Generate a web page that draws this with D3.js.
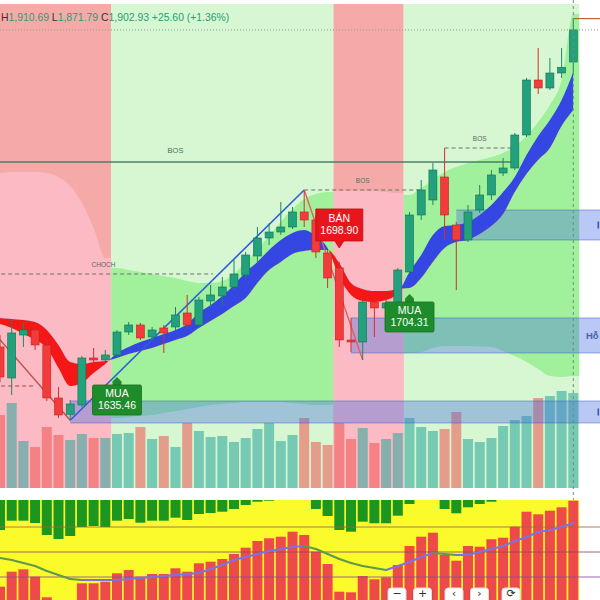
<!DOCTYPE html>
<html>
<head>
<meta charset="utf-8">
<script src="https://cdn.jsdelivr.net/npm/d3@7"></script>
<style>
  html, body { margin: 0; padding: 0; background: #ffffff; }
  svg { display: block; }
</style>
</head>
<body>
<svg id="chart" width="600" height="600"></svg>
<script>
// ---- session index (bar -1 is the partly hidden bar at the left edge) ----
const bars = d3.range(-1, 49);

// ---- OHLC ----
const open  = [1685.67,1664.42,1693.89,1697.31,1687.04,1650.72,1639.50,1645.92,1678.13,1676.76,1680.18,1695.94,1700.74,1692.52,1698.68,1699.37,1708.96,1700.74,1717.18,1720.61,1726.78,1735.00,1748.02,1760.35,1764.46,1767.89,1778.17,1772.69,1750.07,1739.80,1690.46,1689.09,1716.50,1712.39,1715.81,1737.06,1776.11,1786.39,1802.15,1769.26,1758.98,1779.54,1789.82,1804.89,1808.32,1830.93,1868.61,1863.13,1873.41,1880.95];
const high  = [1693.89,1704.17,1702.80,1700.74,1691.83,1658.26,1649.35,1679.50,1684.98,1683.61,1697.31,1702.80,1702.11,1699.37,1700.74,1713.07,1721.30,1719.93,1728.15,1733.63,1745.28,1750.76,1767.89,1770.63,1785.02,1781.59,1793.24,1776.11,1752.13,1743.91,1705.54,1717.87,1717.87,1717.87,1739.80,1778.17,1800.09,1811.74,1822.02,1771.32,1782.96,1796.67,1806.95,1815.17,1832.30,1869.98,1890.54,1883.69,1890.54,1910.69];
const low   = [1661.68,1652.78,1685.67,1683.61,1648.66,1637.02,1635.46,1644.55,1674.70,1675.39,1678.81,1693.89,1690.46,1690.46,1681.55,1697.31,1699.37,1698.68,1713.07,1714.44,1724.72,1732.94,1743.22,1755.56,1762.41,1766.52,1767.89,1746.65,1726.09,1685.67,1682.24,1676.76,1692.52,1711.02,1714.44,1735.69,1772.69,1782.96,1758.98,1724.72,1757.61,1777.48,1786.39,1802.83,1806.95,1829.56,1859.02,1861.76,1869.98,1871.79];
const close = [1665.11,1695.26,1697.31,1687.04,1650.72,1639.07,1646.61,1678.13,1676.76,1680.18,1695.94,1700.74,1691.83,1697.31,1695.26,1707.59,1700.74,1717.87,1721.30,1726.78,1735.69,1748.70,1760.35,1764.46,1767.89,1778.17,1772.69,1750.76,1732.94,1690.46,1689.09,1716.50,1712.39,1715.81,1738.43,1776.11,1793.24,1806.95,1776.11,1758.98,1778.17,1789.82,1803.52,1808.32,1830.93,1868.61,1863.13,1873.41,1877.33,1902.93];

// ---- volume (thousand lots) ----
const volume = [730,850,470,410,610,530,480,540,500,500,540,550,610,490,520,410,650,570,510,520,460,500,590,650,470,530,700,460,430,650,490,600,450,490,550,700,610,570,590,760,490,460,500,620,680,720,900,920,970,950];

// ---- moving-average ribbon ----
const maFast = [1701.43,1698.68,1694.57,1690.46,1684.98,1671.28,1658.94,1661.00,1667.85,1674.02,1681.55,1685.67,1689.09,1691.83,1694.57,1697.31,1701.43,1708.96,1714.44,1720.61,1728.15,1737.06,1743.91,1752.13,1758.98,1763.78,1765.83,1761.72,1753.50,1733.63,1721.30,1717.18,1716.50,1717.87,1722.67,1737.06,1748.70,1762.41,1768.57,1769.26,1771.32,1776.11,1782.96,1791.87,1802.15,1817.22,1830.24,1841.21,1854.91,1874.10];
const maSlow = [1705.54,1704.85,1704.17,1702.80,1697.31,1687.04,1675.39,1674.02,1675.39,1676.07,1678.13,1680.87,1682.92,1684.98,1687.72,1690.46,1693.20,1698.68,1703.48,1708.28,1713.76,1719.24,1729.52,1738.43,1743.91,1749.39,1751.44,1752.13,1752.13,1743.22,1729.52,1725.41,1724.04,1724.04,1725.41,1726.09,1732.94,1743.91,1753.50,1757.61,1758.98,1763.09,1768.57,1776.80,1791.87,1804.21,1813.80,1822.02,1837.09,1848.06];

// ---- trend cloud ----
const cloudUpper = [1804.89,1805.58,1805.58,1805.58,1804.89,1802.15,1795.98,1784.33,1767.20,1746.65,1739.80,1738.43,1737.06,1735.69,1734.31,1732.94,1730.89,1729.52,1729.52,1730.89,1735.69,1743.91,1752.82,1761.72,1771.32,1780.22,1787.08,1790.50,1791.87,1792.56,1792.56,1792.56,1792.56,1791.87,1791.19,1789.82,1794.61,1800.09,1805.58,1809.00,1811.74,1813.80,1815.85,1818.59,1823.39,1830.24,1839.84,1851.48,1868.61,1913.84];
const cloudLower = [1589.05,1589.05,1589.05,1589.05,1589.05,1589.05,1589.05,1589.05,1589.05,1589.05,1637.02,1637.70,1638.39,1639.07,1640.44,1641.81,1643.18,1644.55,1645.92,1646.61,1647.29,1647.98,1647.98,1647.98,1647.98,1647.29,1646.61,1645.92,1645.92,1589.05,1589.05,1589.05,1589.05,1589.05,1589.05,1681.55,1682.24,1684.98,1686.35,1686.35,1686.35,1686.01,1685.67,1682.92,1679.50,1675.39,1670.59,1665.79,1665.11,1665.79];

// ---- trend zones (bar ranges) ----
const zoneFrom  = [-1, 9, 28, 34];
const zoneTo    = [8, 27, 33, 48];
const zoneTrend = ["down", "up", "down", "up"];

// ---- supply / demand boxes (only the support tag fits inside the pane) ----
const boxTop    = [1779.54, 1705.54, 1648.66];
const boxBottom = [1758.98, 1681.55, 1633.59];
const boxFrom   = [38, 29, 5];
const boxText   = ["", "Hỗ", ""];

// ---- structure levels ----
const levelName  = ["BOS", "BOS", "BOS", "CHOCH", ""];
const levelPrice = [1812.43, 1793.24, 1822.02, 1735.69, 1658.94];
const levelFrom  = [-15, 25, 37, -1.5, -1.5];
const levelTo    = [43, 35, 43, 17.2, 2];

// ---- swing points ----
const swingBar   = [-3, 5, 25, 30];
const swingPrice = [1708.96, 1635.46, 1793.24, 1676.76];

// ---- signals ----
const signalBar   = [28, 9, 34];
const signalSide  = ["BÁN", "MUA", "MUA"];
const signalPrice = [1698.90, 1635.46, 1704.31];

// ---- lower oscillator ----
const bullPower = [13.3,28.3,30.7,23.3,2.7,0,0,16.7,16.7,18.3,26.7,30,23.3,26,26,31.7,28.3,36.7,38.3,41,46,52.3,59,61.7,63.3,68.3,65,48.3,36,8.3,7.7,24,20.7,22.7,35,54,63.3,67.3,45,39.3,54,53.3,60.7,62.3,73.3,88.3,85.7,89.3,92.7,99.3];
const bearPower = [30,20.7,20.7,23,35,39,36,27,26,27,20.7,19,22.7,20.7,20.7,17.7,20,14,13,11.7,9,5,1.7,0.7,0,0,0,9,16,30,31.7,21.7,23.3,23.3,15.7,4,0,0,9,13.3,7.3,4,1.7,0,0,0,0,0,0,0];
const oscSignal = [42,40,37,34,29,25,21,20,20,20,20,21,22,23,24,25,26,27,31,35,40,43,46,49,51,53,54,51,46,41,37,34,32,30,34,38,43,47,46,45,45,48,51,54,59,63,68,70,73,77];
const oscLevels = [23, 48, 73];

// ---- nav buttons ----
const navButtons = ["−", "+", "‹", "›", "⟳"];

// =====================================================================
const svg = d3.select("#chart");
const W = 600, H = 600;
const font = "'Liberation Sans', Arial, sans-serif";

const x = d3.scaleLinear().domain([0, 48]).range([11.7, 573.3]);
const step = x(1) - x(0);
const half = step / 2;
const y = d3.scaleLinear().domain([1600, 1920]).range([472, 5]);
const mainTop = 4, mainBottom = 488;
const plotRight = x(48) + half;
const yc = p => Math.min(mainBottom, y(p));

svg.append("rect").attr("width", W).attr("height", H).attr("fill", "#ffffff");

const main = svg.append("g");

// trend zones
const zoneFill = { down: "#f5aaa8", up: "#d7f7d2" };
const cloudFill = { down: "#fbbac4", up: "#a0f09c" };
zoneFrom.forEach((f, k) => {
  main.append("rect")
    .attr("x", x(f) - half).attr("y", mainTop)
    .attr("width", x(zoneTo[k]) - x(f) + step)
    .attr("height", mainBottom - mainTop)
    .attr("fill", zoneFill[zoneTrend[k]]);
});

// cloud inside each zone
const cloudArea = d3.area()
  .x(d => d[0]).y0(d => yc(d[2])).y1(d => yc(d[1]))
  .curve(d3.curveMonotoneX);
zoneFrom.forEach((f, k) => {
  const t = zoneTo[k];
  const pts = [[x(f) - half, cloudUpper[f + 1], cloudLower[f + 1]]];
  for (let i = f; i <= t; i++) pts.push([x(i), cloudUpper[i + 1], cloudLower[i + 1]]);
  pts.push([x(t) + half, cloudUpper[t + 1], cloudLower[t + 1]]);
  main.append("path").attr("d", cloudArea(pts)).attr("fill", cloudFill[zoneTrend[k]]);
});

// volume
const volY = d3.scaleLinear().domain([0, 1000]).range([mainBottom, 388]);
bars.forEach((b, k) => {
  const up = close[k] >= open[k];
  main.append("rect")
    .attr("x", x(b) - 5).attr("width", 10)
    .attr("y", volY(volume[k])).attr("height", mainBottom - volY(volume[k]))
    .attr("fill", up ? "rgba(38,166,154,0.55)" : "rgba(239,83,80,0.55)");
});

// supply / demand boxes
boxTop.forEach((t, k) => {
  const x0 = x(boxFrom[k]);
  const yTop = y(t), yBot = y(boxBottom[k]);
  main.append("rect")
    .attr("x", x0).attr("y", yTop)
    .attr("width", W - x0).attr("height", yBot - yTop)
    .attr("fill", "rgba(70,110,225,0.38)");
  [yTop, yBot].forEach(v => main.append("line")
    .attr("x1", x0).attr("x2", W).attr("y1", v).attr("y2", v)
    .attr("stroke", "rgba(50,90,200,0.45)").attr("stroke-width", 1));
  if (boxText[k]) {
    main.append("text")
      .attr("x", 586).attr("y", (yTop + yBot) / 2 + 4)
      .attr("font-family", font).attr("font-size", 9.5).attr("font-weight", "bold")
      .attr("fill", "#4a62b0").text(boxText[k]);
  } else {
    // edge of the box caption peeking in at the pane border
    main.append("rect")
      .attr("x", 597.5).attr("y", (yTop + yBot) / 2 - 3.5)
      .attr("width", 1.6).attr("height", 7).attr("fill", "#3d56a8");
  }
});

// structure levels
levelPrice.forEach((p, k) => {
  const solid = k === 0;
  const ln = main.append("line")
    .attr("x1", x(levelFrom[k])).attr("x2", x(levelTo[k]))
    .attr("y1", y(p)).attr("y2", y(p))
    .attr("stroke", solid ? "#4b7f6b" : (k === 4 ? "#a04848" : "#6f6f6f"))
    .attr("stroke-width", solid ? 1.3 : 1);
  if (!solid) ln.attr("stroke-dasharray", "4,3");
  if (levelName[k]) {
    main.append("text")
      .attr("x", x((levelFrom[k] + levelTo[k]) / 2)).attr("y", y(p) - (solid ? 9 : 7))
      .attr("text-anchor", "middle")
      .attr("font-family", font).attr("font-size", solid ? 7.5 : 6.5)
      .attr("fill", solid ? "#3f7561" : "#5a6a62")
      .text(levelName[k]);
  }
});

// moving-average ribbon: blue where the fast line is above, red where below
const defs = svg.append("defs");
const clipAbove = d3.area().x((d, k) => x(bars[k])).y0(0).y1(d => y(d)).curve(d3.curveMonotoneX);
const clipBelow = d3.area().x((d, k) => x(bars[k])).y0(H).y1(d => y(d)).curve(d3.curveMonotoneX);
defs.append("clipPath").attr("id", "aboveSlow").append("path").attr("d", clipAbove(maSlow));
defs.append("clipPath").attr("id", "belowSlow").append("path").attr("d", clipBelow(maSlow));
const ribbon = d3.area()
  .x((d, k) => x(bars[k])).y0((d, k) => y(maSlow[k])).y1(d => y(d))
  .curve(d3.curveMonotoneX);
main.append("path").attr("d", ribbon(maFast)).attr("fill", "#3447e2").attr("clip-path", "url(#aboveSlow)");
main.append("path").attr("d", ribbon(maFast)).attr("fill", "#f51616").attr("clip-path", "url(#belowSlow)");

// swing legs
for (let k = 0; k < swingBar.length - 1; k++) {
  const upLeg = swingPrice[k + 1] > swingPrice[k];
  main.append("line")
    .attr("x1", x(swingBar[k])).attr("y1", y(swingPrice[k]))
    .attr("x2", x(swingBar[k + 1])).attr("y2", y(swingPrice[k + 1]))
    .attr("stroke", upLeg ? "#2d5fd8" : (k === 0 ? "#b8514a" : "#e0605e"))
    .attr("stroke-width", upLeg ? 1.6 : 1.4);
}

// candles
bars.forEach((b, k) => {
  const up = close[k] >= open[k];
  const cx = x(b);
  main.append("line")
    .attr("x1", cx).attr("x2", cx).attr("y1", y(high[k])).attr("y2", y(low[k]))
    .attr("stroke", up ? "#1c8866" : "#d23030").attr("stroke-width", 1);
  const top = y(Math.max(open[k], close[k]));
  const bot = y(Math.min(open[k], close[k]));
  main.append("rect")
    .attr("x", cx - 4).attr("y", top).attr("width", 8).attr("height", Math.max(1.2, bot - top))
    .attr("fill", up ? "#23a17c" : "#f23b3b")
    .attr("stroke", up ? "#167055" : "#c42424").attr("stroke-width", 0.6);
});

// signal tags
signalBar.forEach((b, k) => {
  const idx = b + 1;
  const cx = x(b);
  const g = main.append("g");
  const txt = [signalSide[k], d3.format(".2f")(signalPrice[k])];
  if (signalSide[k] === "BÁN") {
    const tip = y(high[idx]) - 14;
    const bx0 = cx - 23.5, by1 = tip - 7, by0 = by1 - 32;
    g.append("path")
      .attr("d", `M${bx0},${by0}h47v32h-19l-4.5,7l-4.5,-7h-19z`)
      .attr("fill", "#e8161c").attr("stroke", "#b81010").attr("stroke-width", 0.8);
    txt.forEach((t, j) => g.append("text")
      .attr("x", cx).attr("y", by0 + 13 + j * 12).attr("text-anchor", "middle")
      .attr("font-family", font).attr("font-size", 10.5).attr("fill", "#ffffff").text(t));
  } else {
    const tip = y(low[idx]) + 20;
    const by0 = tip + 8;
    g.append("path")
      .attr("d", `M${cx},${tip}l4.5,4.5v4h-9v-4z`)
      .attr("fill", "#1f8c2b");
    g.append("rect")
      .attr("x", cx - 24.5).attr("y", by0).attr("width", 49).attr("height", 30).attr("rx", 1.5)
      .attr("fill", "#1f8c2b").attr("stroke", "#15701f").attr("stroke-width", 0.8);
    txt.forEach((t, j) => g.append("text")
      .attr("x", cx).attr("y", by0 + 12 + j * 12).attr("text-anchor", "middle")
      .attr("font-family", font).attr("font-size", 10.5).attr("fill", "#ffffff").text(t));
  }
});

// last price line, high marker, current bar cursor
const last = bars.length - 1;
main.append("line")
  .attr("x1", 0).attr("x2", W).attr("y1", y(close[last])).attr("y2", y(close[last]))
  .attr("stroke", "#8d9ba0").attr("stroke-width", 1).attr("stroke-dasharray", "1,2");
main.append("line")
  .attr("x1", x(bars[last])).attr("x2", W).attr("y1", y(high[last])).attr("y2", y(high[last]))
  .attr("stroke", "#c0603e").attr("stroke-width", 1.2);
svg.append("line")
  .attr("x1", x(bars[last])).attr("x2", x(bars[last])).attr("y1", 0).attr("y2", 500)
  .attr("stroke", "#6f8f80").attr("stroke-width", 1).attr("stroke-dasharray", "3,3");

// ---- lower oscillator panel ----
const oscY = d3.scaleLinear().domain([0, 100]).range([600, 500]);
const osc = svg.append("g");
osc.append("rect").attr("x", 0).attr("y", 500).attr("width", plotRight).attr("height", 100).attr("fill", "#fbfb2c");
bars.forEach((b, k) => {
  if (bullPower[k] > 0) osc.append("rect")
    .attr("x", x(b) - 5).attr("width", 10)
    .attr("y", oscY(bullPower[k])).attr("height", 600 - oscY(bullPower[k]))
    .attr("fill", "#ef4a4a");
  if (bearPower[k] > 0) osc.append("rect")
    .attr("x", x(b) - 5).attr("width", 10)
    .attr("y", 500).attr("height", oscY(100 - bearPower[k]) - 500)
    .attr("fill", "#1c961e");
});
const levelColors = ["#8a4aa0", "#8a4a64", "#9a6a42"];
oscLevels.forEach((v, k) => osc.append("line")
  .attr("x1", 0).attr("x2", W).attr("y1", oscY(v)).attr("y2", oscY(v))
  .attr("stroke", levelColors[k]).attr("stroke-width", 1).attr("opacity", 0.85));
// signal line: green while falling, violet while rising
for (let k = 0; k < oscSignal.length - 1; k++) {
  const rising = oscSignal[k + 1] >= oscSignal[k];
  osc.append("line")
    .attr("x1", x(bars[k])).attr("y1", oscY(oscSignal[k]))
    .attr("x2", x(bars[k + 1])).attr("y2", oscY(oscSignal[k + 1]))
    .attr("stroke", rising ? "#7b72e4" : "#5c9a4c").attr("stroke-width", 2)
    .attr("stroke-linecap", "round");
}

// nav buttons
const shadow = defs.append("filter").attr("id", "btnShadow").attr("x", "-30%").attr("y", "-30%").attr("width", "160%").attr("height", "160%");
shadow.append("feDropShadow").attr("dx", 0).attr("dy", 1).attr("stdDeviation", 1).attr("flood-color", "#000").attr("flood-opacity", 0.25);
let bx = 388;
navButtons.forEach((t, k) => {
  if (k === 2 || k === 4) bx += 6;
  osc.append("rect").attr("x", bx).attr("y", 588).attr("width", 18).attr("height", 22).attr("rx", 3)
    .attr("fill", "#ffffff").attr("stroke", "#dddddd").attr("filter", "url(#btnShadow)");
  osc.append("text").attr("x", bx + 9).attr("y", 596.5).attr("text-anchor", "middle")
    .attr("font-family", "'DejaVu Sans', sans-serif").attr("font-size", 11).attr("fill", "#333").text(t);
  bx += 25.5;
});

// ---- OHLC header ----
const fmt = d3.format(",.2f");
const chg = close[last] - close[last - 1];
const pct = chg / close[last - 1] * 100;
const head = svg.append("text").attr("x", 1).attr("y", 21)
  .attr("font-family", font).attr("font-size", 10.4);
const valueColor = "#2a9d77";
[["H", "#333"], [fmt(high[last]), valueColor], [" L", "#333"], [fmt(low[last]), valueColor],
 [" C", "#333"], [fmt(close[last]), valueColor],
 [" " + (chg >= 0 ? "+" : "") + chg.toFixed(2) + " (" + (pct >= 0 ? "+" : "") + pct.toFixed(2) + "%)", valueColor]]
  .forEach(([t, c]) => head.append("tspan").attr("fill", c).text(t));
</script>
</body>
</html>
